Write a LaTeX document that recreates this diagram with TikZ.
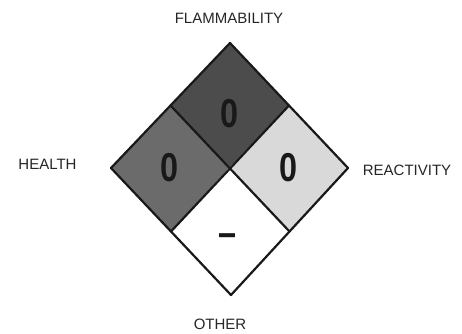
\documentclass[tikz,border=0pt]{standalone}
\usepackage{fontspec}
\setmainfont{Liberation Sans}
\usetikzlibrary{calc}
\begin{document}
\begin{tikzpicture}[x=1pt,y=-1pt,
  lbl/.style={text=black!85,font=\fontsize{15}{15}\selectfont,inner sep=0pt},
  num/.style={text=black!90,font=\fontsize{36}{36}\selectfont\bfseries,inner sep=0pt,xscale=0.9,yscale=1.12},
  edge/.style={draw=black!90,line width=2.2pt,line join=round}]
\useasboundingbox[fill=white] (0,0) rectangle (462,333);
\coordinate (T) at (230,43);
\coordinate (L) at (111,168);
\coordinate (R) at (348,168);
\coordinate (B) at (231,295);
\coordinate (C) at (230,167);
\coordinate (TL) at ($(T)!0.5!(L)$);
\coordinate (TR) at ($(T)!0.5!(R)$);
\coordinate (BL) at ($(B)!0.5!(L)$);
\coordinate (BR) at ($(B)!0.5!(R)$);
\fill[black!70] (T) -- (TR) -- (C) -- (TL) -- cycle;
\fill[black!58] (L) -- (TL) -- (C) -- (BL) -- cycle;
\fill[black!15] (R) -- (TR) -- (C) -- (BR) -- cycle;
\fill[white] (B) -- (BL) -- (C) -- (BR) -- cycle;
\draw[edge] (T) -- (R) -- (B) -- (L) -- cycle;
\draw[edge] (TL) -- (BR);
\draw[edge] (TR) -- (BL);
\node[num] (nf) at (230,114) {0};
\node[num] (nh) at (170,168) {0};
\node[num] (nr) at (289,168) {0};
\node[num] (no) at (228,240) {–};
\node[lbl] (lf) at (229,18) {FLAMMABILITY};
\node[lbl] (lh) at (47.5,164) {HEALTH};
\node[lbl] (lr) at (407,170) {REACTIVITY};
\node[lbl] (lo) at (220,324) {OTHER};
\end{tikzpicture}
\end{document}
